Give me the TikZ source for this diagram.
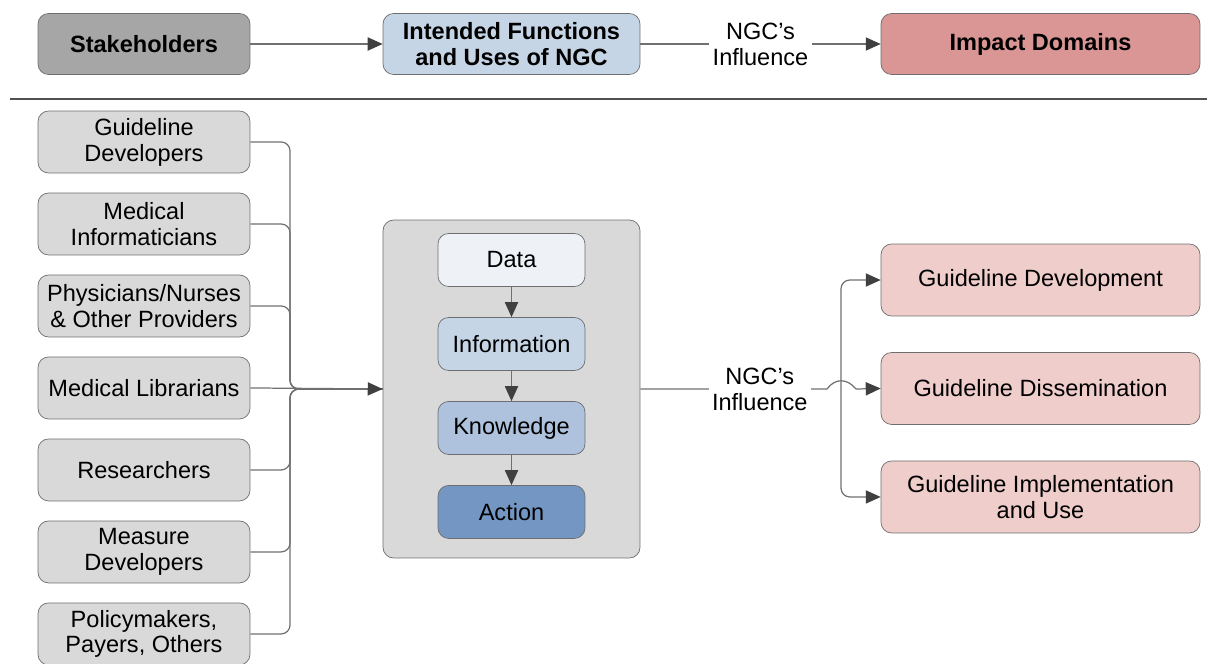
\documentclass[tikz,border=0pt]{standalone}
\usepackage{fontspec}
\setmainfont{Liberation Sans}
\usetikzlibrary{arrows.meta,positioning}

\definecolor{stkdark}{HTML}{A6A6A6}
\definecolor{usesblue}{HTML}{C6D5E6}
\definecolor{impred}{HTML}{D99694}
\definecolor{boxgray}{HTML}{D9D9D9}
\definecolor{datac}{HTML}{EEF2F7}
\definecolor{infoc}{HTML}{C6D5E6}
\definecolor{knowc}{HTML}{AEC2DD}
\definecolor{actc}{HTML}{7396C2}
\definecolor{dompink}{HTML}{EECDCB}
\definecolor{boxline}{HTML}{6E6E6E}
\definecolor{linegray}{HTML}{707070}
\definecolor{tipdark}{HTML}{404040}
\definecolor{divgray}{HTML}{505050}

\begin{document}
\begin{tikzpicture}[x=0.02cm,y=-0.02cm,node distance=1.64cm]

\tikzstyle{base} = [rectangle, rounded corners=6pt, draw=boxline, text centered, align=center, inner sep=1pt, font=\fontsize{13.4}{14.7}\selectfont]
\tikzstyle{hd} = [base, minimum height=1.22cm, font=\bfseries\fontsize{13.4}{14.7}\selectfont]
\tikzstyle{stk} = [base, fill=boxgray, minimum width=4.24cm, minimum height=1.24cm]
\tikzstyle{lv} = [base, minimum width=2.94cm, minimum height=1.06cm]
\tikzstyle{dom} = [base, fill=dompink, minimum width=6.38cm, minimum height=1.44cm]
\tikzstyle{ln} = [draw=linegray, line width=0.7pt]
\tikzstyle{arr} = [ln, -{Triangle[length=8.5pt,width=7.5pt,color=tipdark]}]
\tikzstyle{lbl} = [fill=white, align=center, inner sep=2pt, font=\fontsize{13.4}{14.7}\selectfont]

\useasboundingbox (0,0) rectangle (1207,663);

% header row
\node (stake) [hd, fill=stkdark, minimum width=4.24cm] at (144,44) {Stakeholders};
\node (uses) [hd, fill=usesblue, minimum width=5.14cm] at (511.5,44) {Intended Functions\\and Uses of NGC};
\node (impact) [hd, fill=impred, minimum width=6.38cm] at (1040.5,44) {Impact Domains};
\draw[arr] (stake) -- (uses);
\draw[arr] (uses) -- node[lbl] {NGC’s\\Influence} (impact);

\draw[line width=1.7pt, divgray] (10,99) -- (1207,99);

% stakeholders
\node (gdev) [stk] at (144,142) {Guideline\\Developers};
\node (minf) [stk, below of=gdev] {Medical\\Informaticians};
\node (phys) [stk, below of=minf] {Physicians/Nurses\\\& Other Providers};
\node (mlib) [stk, below of=phys] {Medical Librarians};
\node (res) [stk, below of=mlib] {Researchers};
\node (meas) [stk, below of=res] {Measure\\Developers};
\node (pol) [stk, below of=meas] {Policymakers,\\Payers, Others};

% functions
\node (fun) [base, fill=boxgray, minimum width=5.14cm, minimum height=6.76cm] at (511.5,389) {};
\node (data) [lv, fill=datac] at (511.5,260) {Data};
\node (info) [lv, fill=infoc, below of=data, node distance=1.68cm] {Information};
\node (know) [lv, fill=knowc, below of=info, node distance=1.68cm] {Knowledge};
\node (act) [lv, fill=actc, below of=know, node distance=1.68cm] {Action};
\draw[arr] (data) -- (info);
\draw[arr] (info) -- (know);
\draw[arr] (know) -- (act);

\coordinate (lbus) at (290,389);
\foreach \n in {gdev,minf,phys,res,meas,pol}
  \draw[ln, rounded corners=5pt] (\n.east) -| (lbus) -- (fun.west);
\draw[arr] (mlib.east) -- (fun.west);

% impact domains
\node (gdv) [dom] at (1040.5,280) {Guideline Development};
\node (gds) [dom, below of=gdv, node distance=2.17cm] {Guideline Dissemination};
\node (gim) [dom, below of=gds, node distance=2.17cm] {Guideline Implementation\\and Use};

\coordinate (rbus) at (841,389);
\coordinate (hopa) at (827,389);
\coordinate (hopb) at (856,389);
\draw[ln] (fun.east) -- node[lbl, pos=0.64] {NGC’s\\Influence} (hopa)
  .. controls (835,378) and (847,378) .. (hopb);
\draw[arr] (hopb) -- (gds.west);
\draw[arr, rounded corners=5pt] (rbus) |- (gdv.west);
\draw[arr, rounded corners=5pt] (rbus) |- (gim.west);
\end{tikzpicture}
\end{document}
